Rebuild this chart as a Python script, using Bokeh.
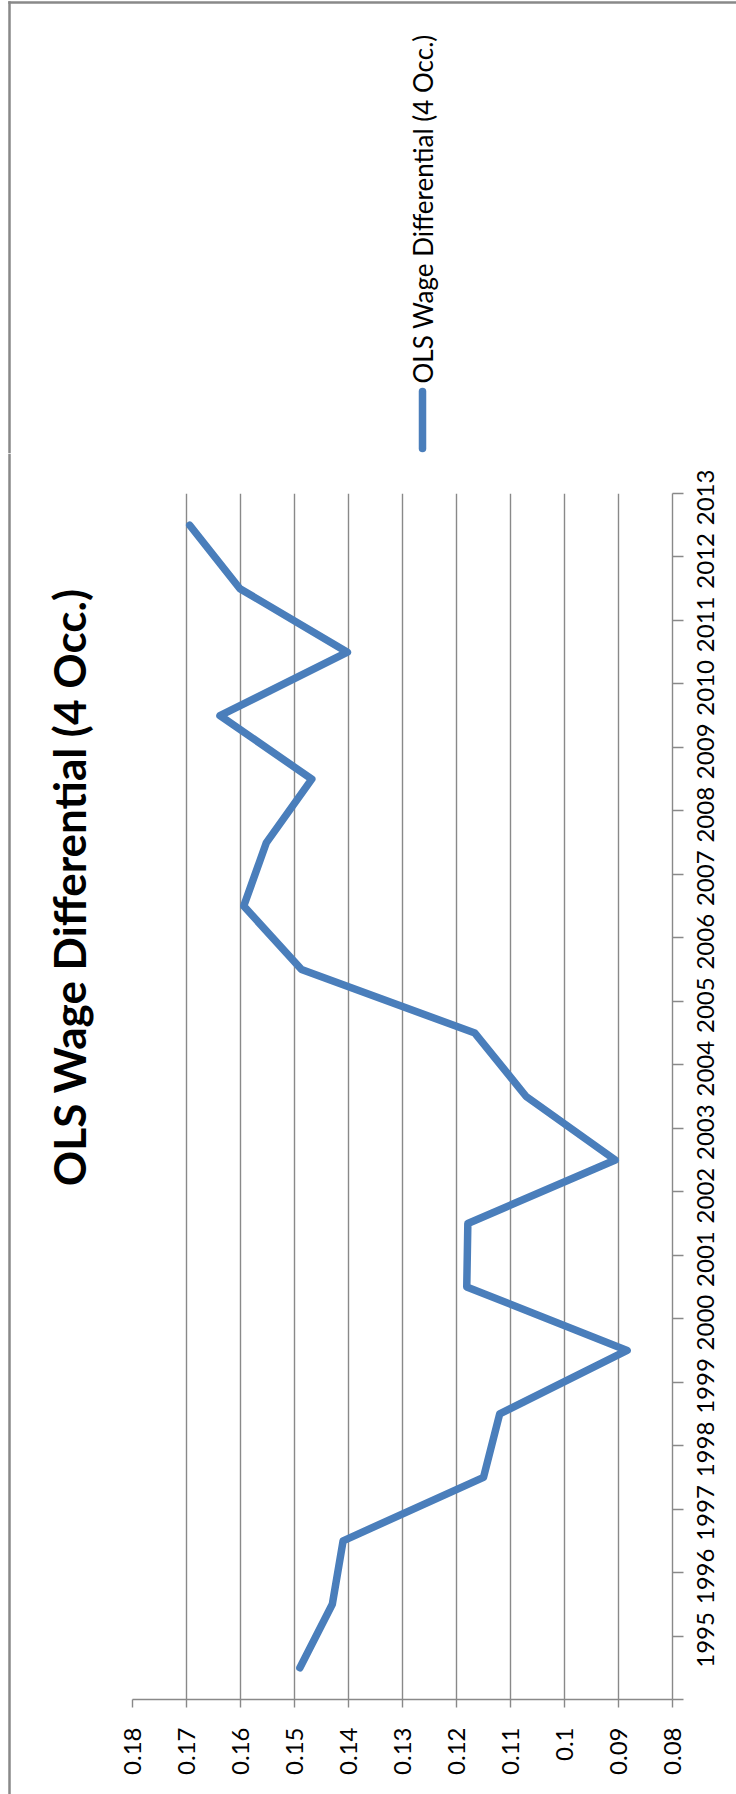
from math import pi

from bokeh.core.properties import value
from bokeh.embed import file_html
from bokeh.layouts import column, row
from bokeh.models import FixedTicker, Plot, Range1d
from bokeh.plotting import figure
from bokeh.resources import INLINE

# ---- data -------------------------------------------------------------
years = [1995, 1996, 1997, 1998, 1999, 2000, 2001, 2002, 2003, 2004,
         2005, 2006, 2007, 2008, 2009, 2010, 2011, 2012, 2013]
year_labels = [str(y) for y in years]
wage_diff = [0.1490, 0.1430, 0.1410, 0.1150, 0.1120, 0.0884, 0.1181, 0.1179,
             0.0906, 0.1071, 0.1166, 0.1487, 0.1594, 0.1552, 0.1468, 0.1638,
             0.1402, 0.1601, 0.1694]
value_ticks = [0.18, 0.17, 0.16, 0.15, 0.14, 0.13, 0.12, 0.11, 0.10, 0.09, 0.08]
value_tick_labels = ["0.18", "0.17", "0.16", "0.15", "0.14", "0.13", "0.12",
                     "0.11", "0.1", "0.09", "0.08"]
series_name = "OLS Wage Differential (4 Occ.)"
chart_title = "OLS Wage Differential (4 Occ.)"

# ---- page geometry (pixels) ------------------------------------------
W, H = 736, 1794
TOP_H = 453          # strip above the chart (legend)
EDGE_W = 24          # strip holding the chart's left border
TITLE_W = 76         # strip holding the title
FRAME_L = 132        # plot frame edges on the page
FRAME_R = 672
FRAME_T = 493
FRAME_B = 1699
FONT = "Lato"
GRAY = "#898989"
BLUE = "#4A7EBB"
LINE_W = 7.5
BORDER_X, BORDER_Y, BORDER_W = 9, 2, 2.5

# keep each plot's frame where its own borders put it
NO_ALIGN = {"frame_align": False} if "frame_align" in Plot.properties() else {}


def clear_fills(f):
    """Transparent canvas so neighbouring pieces never hide one another."""
    f.outline_line_color = None
    f.background_fill_color = None
    f.border_fill_color = None


def blank(width, height):
    """A figure whose frame fills its canvas; x and y are in pixels,
    measured from its bottom-left corner."""
    f = figure(width=width, height=height,
               x_range=Range1d(0, width), y_range=Range1d(0, height),
               x_axis_location=None, y_axis_location=None,
               output_backend="svg", toolbar_location=None, min_border=0,
               **NO_ALIGN)
    f.grid.visible = False
    clear_fills(f)
    return f


# ---- legend strip (above the chart) -----------------------------------
top = blank(W, TOP_H)
# chart border: top edge and left edge
top.quad(left=[BORDER_X - BORDER_W / 2], right=[W],
         top=[TOP_H - BORDER_Y + BORDER_W / 2], bottom=[TOP_H - BORDER_Y - BORDER_W / 2],
         fill_color=GRAY, line_color=None)
top.quad(left=[BORDER_X - BORDER_W / 2], right=[BORDER_X + BORDER_W / 2],
         top=[TOP_H - BORDER_Y + BORDER_W / 2], bottom=[0],
         fill_color=GRAY, line_color=None)
top.segment(x0=[422], y0=[TOP_H - 448], x1=[422], y1=[TOP_H - 391],
            line_color=BLUE, line_width=LINE_W, line_cap="round")
top.text(x=[422], y=[TOP_H - 383], text=[series_name], angle=pi / 2,
         text_align="left", text_baseline="middle",
         text_font=value(FONT), text_font_size=value("26px"), text_color="black")

# ---- left edge of the chart border ------------------------------------
low_h = H - TOP_H
edge = blank(EDGE_W, low_h)
edge.quad(left=[BORDER_X - BORDER_W / 2], right=[BORDER_X + BORDER_W / 2],
          top=[low_h], bottom=[0],
          fill_color=GRAY, line_color=None)

# ---- title strip (left of the chart) ----------------------------------
title_strip = blank(TITLE_W, low_h)
title_strip.text(x=[68 - EDGE_W], y=[H - 887], text=[chart_title], angle=pi / 2,
                 text_align="center", text_baseline="middle",
                 text_font=value(FONT), text_font_style="bold",
                 text_font_size=value("44px"), text_color="black")

# ---- the chart --------------------------------------------------------
x_start, x_end = value_ticks[0], value_ticks[-1]
y_start, y_end = years[0] - 0.5, years[-1] + 0.5
left_w = EDGE_W + TITLE_W

p = figure(
    width=W - left_w, height=low_h,
    x_range=Range1d(x_start, x_end), y_range=Range1d(y_start, y_end),
    x_axis_location="below", y_axis_location="right",
    output_backend="svg", toolbar_location=None,
    min_border_left=FRAME_L - left_w, min_border_right=W - FRAME_R,
    min_border_top=FRAME_T - TOP_H, min_border_bottom=H - FRAME_B,
    **NO_ALIGN,
)
clear_fills(p)

# value axis along the bottom, labels rotated
xa = p.xaxis[0]
xa.ticker = FixedTicker(ticks=value_ticks)
xa.major_label_overrides = {t: s for t, s in zip(value_ticks, value_tick_labels)}
xa.major_label_orientation = pi / 2
xa.major_label_text_font = FONT
xa.major_label_text_font_size = "24px"
xa.major_label_text_color = "black"
xa.major_label_standoff = 20
xa.major_tick_out = 8
xa.major_tick_in = 0
xa.minor_tick_line_color = None
xa.axis_line_color = GRAY
xa.axis_line_width = 1.4
xa.major_tick_line_color = GRAY
xa.major_tick_line_width = 1.4

# year axis along the right, tick marks between categories
boundaries = [y - 0.5 for y in years] + [years[-1] + 0.5]
ya = p.yaxis[0]
ya.ticker = FixedTicker(ticks=years, minor_ticks=boundaries)
ya.major_label_overrides = {y: s for y, s in zip(years, year_labels)}
ya.major_label_orientation = pi / 2
ya.major_label_text_font = FONT
ya.major_label_text_font_size = "24px"
ya.major_label_text_color = "black"
ya.major_label_standoff = 22
ya.major_tick_out = 0
ya.major_tick_in = 0
ya.major_tick_line_color = None
ya.minor_tick_out = 11
ya.minor_tick_in = 0
ya.minor_tick_line_color = GRAY
ya.minor_tick_line_width = 1.4
ya.axis_line_color = GRAY
ya.axis_line_width = 1.4

p.xgrid.ticker = FixedTicker(ticks=value_ticks)
p.xgrid.grid_line_color = GRAY
p.xgrid.grid_line_width = 1.4
p.ygrid.visible = False

# the series
p.line(wage_diff, years, line_width=LINE_W, line_color=BLUE,
       line_join="round", line_cap="round")

page = column(top, row(edge, title_strip, p, spacing=0), spacing=0)
open("out.html", "w").write(file_html(page, INLINE))
